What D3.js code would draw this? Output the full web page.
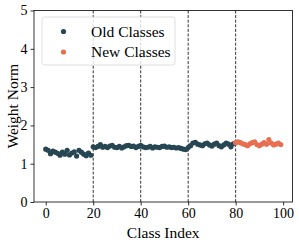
<!DOCTYPE html>
<html>
<head>
<meta charset="utf-8">
<script src="https://cdn.jsdelivr.net/npm/d3@7"></script>
<style>
  body { margin: 0; background: #fff; }
  text { font-family: "Liberation Serif", "DejaVu Serif", serif; fill: #000; }
</style>
</head>
<body>
<figure id="chart" style="margin:0"></figure>
<script>
// weight norm per class
const oldNorms = [
  1.38, 1.35, 1.26, 1.33, 1.30, 1.27, 1.22, 1.30, 1.25, 1.35,
  1.23, 1.28, 1.31, 1.20, 1.35, 1.30, 1.25, 1.21, 1.28, 1.22,
  1.44, 1.42, 1.45, 1.50, 1.43, 1.45, 1.42, 1.46, 1.48, 1.43,
  1.42, 1.45, 1.41, 1.44, 1.47, 1.48, 1.45, 1.46, 1.42, 1.45,
  1.48, 1.44, 1.42, 1.43, 1.45, 1.41, 1.44, 1.43, 1.42, 1.45,
  1.46, 1.43, 1.44, 1.42, 1.43, 1.41, 1.42, 1.40, 1.38, 1.37,
  1.42, 1.47, 1.54, 1.56, 1.51, 1.49, 1.47, 1.52, 1.54, 1.49,
  1.46, 1.51, 1.54, 1.47, 1.44, 1.49, 1.54, 1.51, 1.44, 1.52
];
const newNorms = [
  1.55, 1.57, 1.55, 1.52, 1.50, 1.47, 1.52, 1.55, 1.57, 1.50,
  1.47, 1.51, 1.55, 1.51, 1.63, 1.54, 1.49, 1.51, 1.54, 1.50
];
const taskBounds = [20, 40, 60, 80];
const xTicks = [0, 20, 40, 60, 80, 100];
const yTicks = [0, 1, 2, 3, 4, 5];
const seriesNames = ["Old Classes", "New Classes"];
const seriesColors = ["#264653", "#e76f51"];

const W = 299, H = 243;
const margin = { top: 10.5, right: 6.5, bottom: 41, left: 34 };
const width = W - margin.left - margin.right;
const height = H - margin.top - margin.bottom;

const svg = d3.select("figure#chart")
  .append("svg")
  .attr("width", W)
  .attr("height", H)
  .append("g")
  .attr("transform", "translate(" + margin.left + "," + margin.top + ")");

const x = d3.scaleLinear().domain([-4.95, 103.95]).range([0, width]);
const y = d3.scaleLinear().domain([0, 5]).range([height, 0]);

// axes
const xAxis = svg.append("g")
  .attr("transform", "translate(0," + height + ")")
  .call(d3.axisBottom(x).tickValues(xTicks).tickFormat(d3.format("d")).tickSize(3.5).tickPadding(3));
const yAxis = svg.append("g")
  .call(d3.axisLeft(y).tickValues(yTicks).tickFormat(d3.format("d")).tickSize(3.5).tickPadding(3));
[xAxis, yAxis].forEach(a => {
  a.select(".domain").remove();
  a.selectAll("line").attr("stroke", "#000").attr("stroke-width", 0.8);
  a.selectAll("text").style("font-size", "14px").attr("fill", "#000");
});

// task boundaries
svg.selectAll("line.bound")
  .data(taskBounds)
  .enter()
  .append("line")
  .attr("x1", d => x(d))
  .attr("x2", d => x(d))
  .attr("y1", 0)
  .attr("y2", height)
  .attr("stroke", "#000")
  .attr("stroke-width", 0.8)
  .attr("stroke-dasharray", "3,1.6");

// points
const pts = oldNorms.map((v, i) => ({ i: i, v: v, s: 0 }))
  .concat(newNorms.map((v, i) => ({ i: oldNorms.length + i, v: v, s: 1 })));
svg.selectAll("circle.pt")
  .data(pts)
  .enter()
  .append("circle")
  .attr("cx", d => x(d.i))
  .attr("cy", d => y(d.v))
  .attr("r", 2.6)
  .attr("fill", d => seriesColors[d.s]);

// frame
svg.append("rect")
  .attr("width", width)
  .attr("height", height)
  .attr("fill", "none")
  .attr("stroke", "#000")
  .attr("stroke-width", 0.8);

// legend
const lg = svg.append("g").attr("transform", "translate(8,6.5)");
lg.append("rect")
  .attr("width", 133)
  .attr("height", 48)
  .attr("rx", 2.5)
  .attr("fill", "#fff")
  .attr("fill-opacity", 0.8)
  .attr("stroke", "#d6d6d6")
  .attr("stroke-width", 0.8);
seriesNames.forEach((name, k) => {
  lg.append("circle")
    .attr("cx", 21.5)
    .attr("cy", 14.5 + k * 20.5)
    .attr("r", 2.6)
    .attr("fill", seriesColors[k]);
  lg.append("text")
    .attr("x", 49)
    .attr("y", 14.5 + k * 20.5)
    .attr("dy", "0.35em")
    .style("font-size", "15.5px")
    .text(name);
});

// axis titles
svg.append("text")
  .attr("x", width / 2)
  .attr("y", height + 36)
  .attr("text-anchor", "middle")
  .style("font-size", "15.5px")
  .text("Class Index");
svg.append("text")
  .attr("transform", "translate(" + (-16.5) + "," + (height / 2) + ")rotate(-90)")
  .attr("text-anchor", "middle")
  .style("font-size", "15.5px")
  .text("Weight Norm");
</script>
</body>
</html>
